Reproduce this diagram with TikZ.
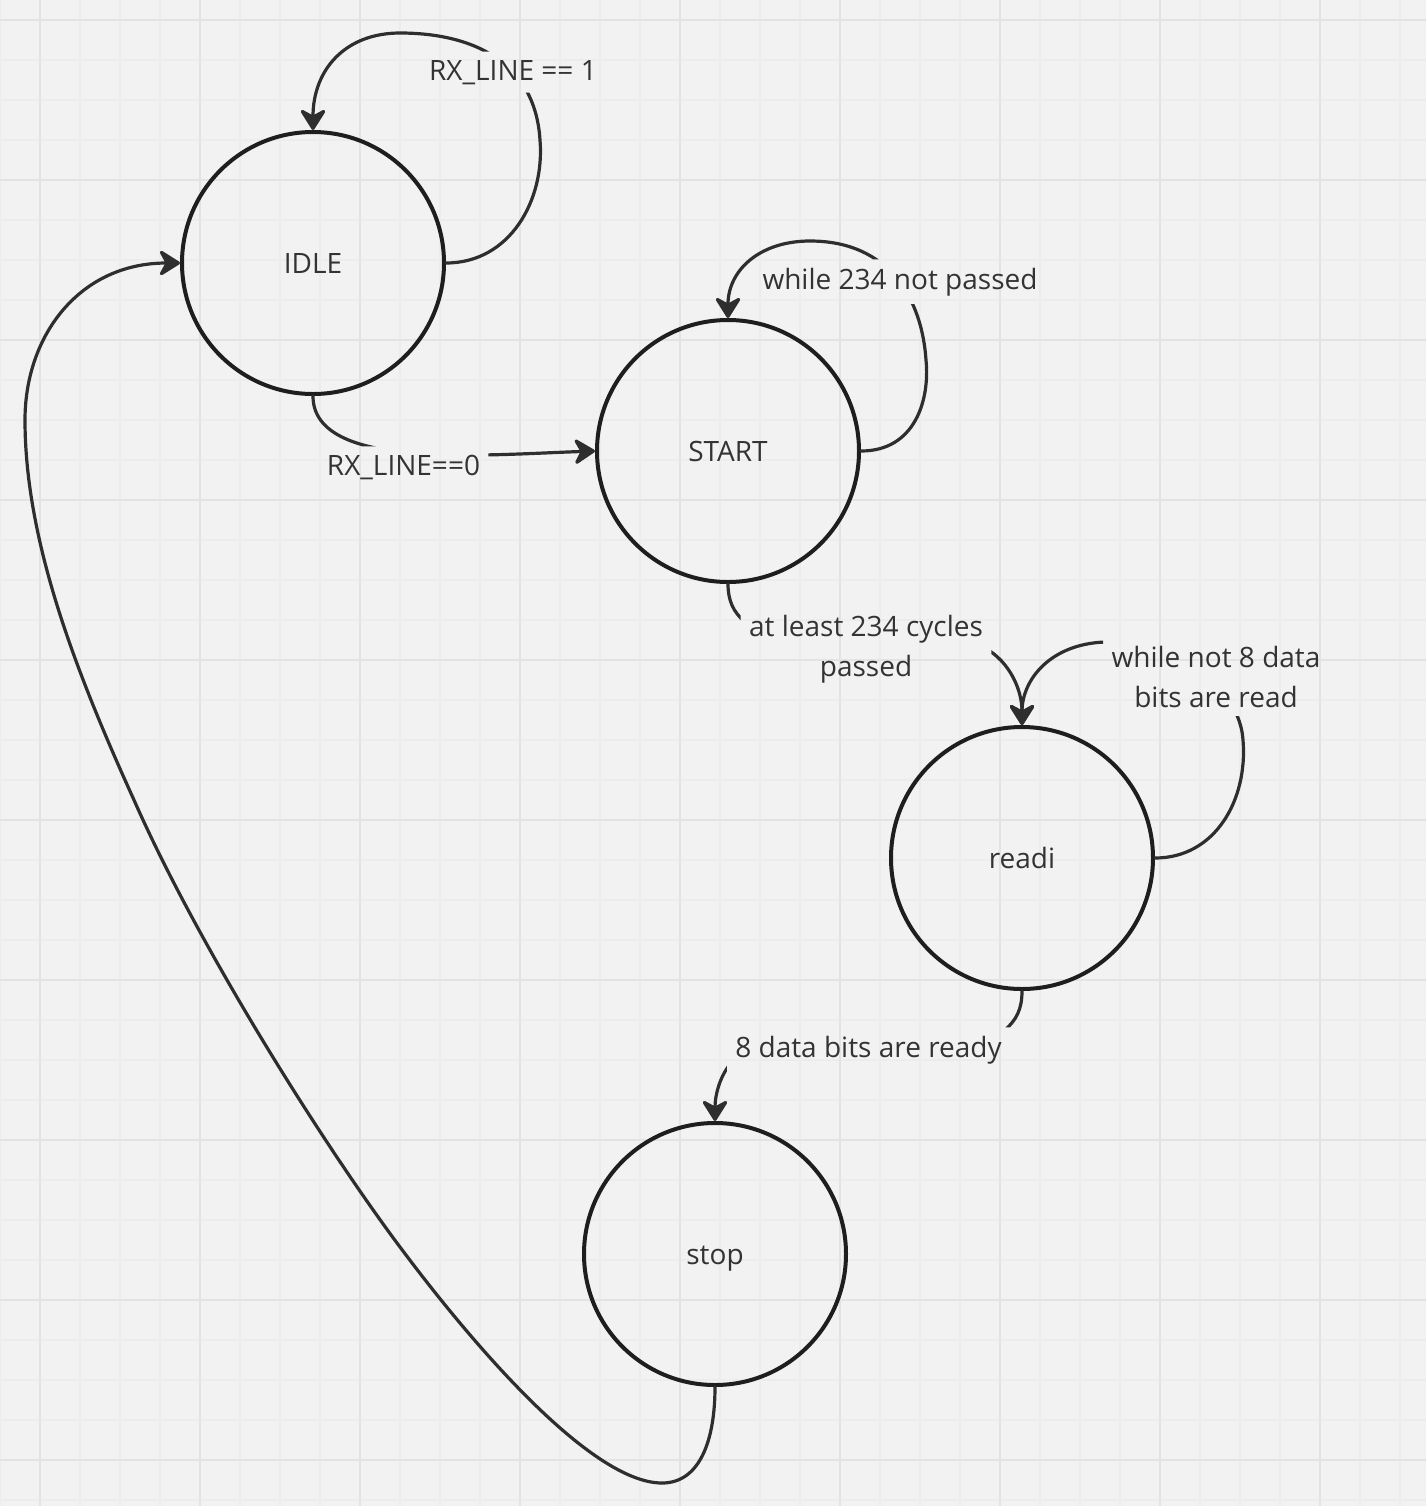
\documentclass[tikz,border=0pt]{standalone}
\usepackage{fontspec}
\setmainfont{Open Sans}
\usetikzlibrary{arrows.meta}
\definecolor{bg}{HTML}{F2F2F2}
\definecolor{gridminor}{HTML}{ECECEC}
\definecolor{gridmajor}{HTML}{E3E3E3}
\definecolor{stroke}{HTML}{1E1E1E}
\definecolor{edgecol}{HTML}{2E2E2E}
\definecolor{txt}{HTML}{333333}
\begin{document}
\begin{tikzpicture}[x=0.5pt,y=-0.5pt,
  state/.style={circle, draw=stroke, line width=2pt, minimum size=131pt, inner sep=0pt,
    text=txt, font=\fontsize{14}{17}\selectfont, text height=10pt, text depth=0pt},
  lbl/.style={text=txt, font=\fontsize{14}{20}\selectfont, inner sep=4pt, align=center},
  edge/.style={draw=edgecol, line width=1.6pt, line cap=round},
  tip/.style={-{Stealth[length=12pt,width=15pt,inset=4pt,round]}}
]
\fill[bg] (0,0) rectangle (1426,1506);
\useasboundingbox (0,0) rectangle (1426,1506);
% grid
\foreach \gx in {0,40,...,1420} \draw[gridminor, line width=0.75pt] (\gx,0) -- (\gx,1506);
\foreach \gy in {20,60,...,1500} \draw[gridminor, line width=0.75pt] (0,\gy) -- (1426,\gy);
\foreach \gx in {40,200,...,1420} \draw[gridmajor, line width=1pt] (\gx,0) -- (\gx,1506);
\foreach \gy in {20,180,...,1500} \draw[gridmajor, line width=1pt] (0,\gy) -- (1426,\gy);

% states
\node[state] (idle) at (313,263) {IDLE};
\node[state] (start) at (728,451) {START};
\node[state] (readi) at (1022,858) {readi};
\node[state] (stop) at (715,1254) {stop};

% labels
\node[lbl, anchor=base] (l1) at (513,80) {RX\_LINE == 1};
\node[lbl, anchor=base] (l2) at (403.5,475) {RX\_LINE==0};
\node[lbl, anchor=base] (l3) at (900,289) {while 234 not passed};
\node[lbl] (l4) at (866,649) {at least 234 cycles\\passed};
\node[lbl] (l5) at (1216,677) {while not 8 data\\bits are read};
\node[lbl, anchor=base] (l6) at (868.5,1057) {8 data bits are ready};

% edges, interrupted where they pass under a label
\begin{scope}[even odd rule]
\clip (-10,-10) rectangle (1436,1516)
  (l1.south west) rectangle (l1.north east)
  (l2.south west) rectangle (l2.north east)
  (l3.south west) rectangle (l3.north east)
  (l4.south west) rectangle (l4.north east)
  (l5.south west) rectangle (l5.north east)
  (l6.south west) rectangle (l6.north east);
\draw[edge,tip] (idle.east) .. controls (510,263) and (545,200) .. (540,140)
  .. controls (535,60) and (470,33) .. (400,33)
  .. controls (345,33) and (313,70) .. (idle.north);
\draw[edge,tip] (idle.south) .. controls (313,470) and (480,455) .. (start.west);
\draw[edge,tip] (start.east) .. controls (915,451) and (930,400) .. (926,360)
  .. controls (922,300) and (890,241) .. (810,241)
  .. controls (760,241) and (728,270) .. (start.north);
\draw[edge,tip] (start.south) .. controls (728,600) and (733,612) .. (745,622)
  -- (985,648) .. controls (1010,662) and (1022,690) .. (readi.north);
\draw[edge,tip] (readi.east) .. controls (1215,858) and (1248,800) .. (1243,740)
  .. controls (1240,690) and (1180,640) .. (1105,642)
  .. controls (1050,644) and (1022,680) .. (readi.north);
\draw[edge,tip] (readi.south) .. controls (1022,1010) and (1016,1020) .. (1005,1030)
  -- (732,1062) .. controls (720,1075) and (715,1095) .. (stop.north);
\draw[edge,tip] (stop.south) .. controls (715,1440) and (700,1483) .. (662,1483)
  .. controls (590,1483) and (470,1340) .. (406,1255)
  .. controls (330,1155) and (200,950) .. (134,800)
  .. controls (75,670) and (25,540) .. (25,420)
  .. controls (25,335) and (80,263) .. (idle.west);
\end{scope}
\end{tikzpicture}
\end{document}
